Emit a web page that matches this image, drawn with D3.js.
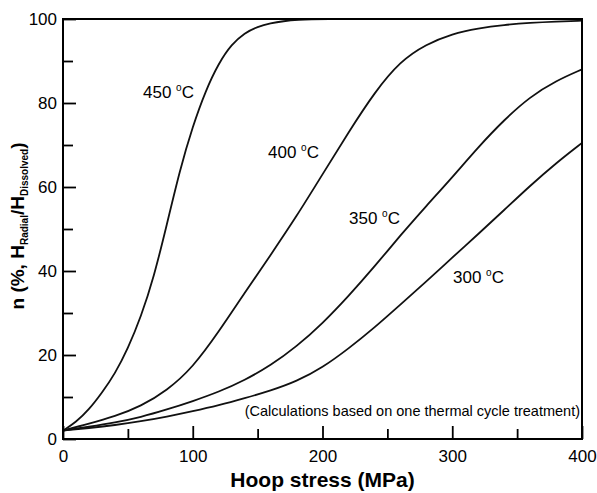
<!DOCTYPE html>
<html><head><meta charset="utf-8">
<script src="https://cdn.jsdelivr.net/npm/d3@7/dist/d3.min.js"></script>
<style>body{margin:0;background:#fff}svg{display:block}text{font-family:"Liberation Sans",Arial,sans-serif}</style>
</head><body><svg id="c" width="597" height="493"></svg>
<script>
// Hoop stress (MPa) vs n (%)
const stress450 = [0,10,20,30,40,50,60,70,80,90,100,110,120,130,140,150,160,170,180,200,250,300,350,400];
const n450      = [2,4,7,11,15.5,21.5,29,38.5,51,64,74.5,83,89.5,94,96.7,98.2,99,99.5,99.8,100,100,100,100,100];
const stress400 = [0,20,40,60,80,100,120,140,160,180,200,220,240,260,280,300,320,340,360,380,400];
const n400      = [2,3.6,5.4,7.8,11.5,17,25.5,34.8,43.8,53,63,73,82.5,90,94,96.5,97.8,98.6,99.1,99.4,99.6];
const stress350 = [0,20,40,60,80,100,120,140,160,180,200,220,240,260,280,300,320,340,360,380,400];
const n350      = [2,2.9,3.9,5.2,7,9,11.2,14,17.5,22,27.5,34,41,48.5,55.5,62.3,69.5,76,81.5,85.3,88];
const stress300 = [0,20,40,60,80,100,120,140,160,180,200,220,240,260,280,300,320,340,360,380,400];
const n300      = [2,2.6,3.3,4.2,5.3,6.6,8,9.7,11.5,13.7,17,21.5,26.5,32,37.5,43.2,48.8,54.5,60.3,65.7,70.5];
const seriesNames = ["450","400","350","300"];
const xTicks = [0,100,200,300,400];
const xMinor = [50,150,250,350];
const yTicks = [0,20,40,60,80,100];
const yMinor = [10,30,50,70,90];
const xTitle = "Hoop stress (MPa)";
const note = "(Calculations based on one thermal cycle treatment)";

const svg = d3.select("#c");
const L=63,R=582,T=19,B=439;
const x = d3.scaleLinear().domain([0,400]).range([L,R]);
const y = d3.scaleLinear().domain([0,100]).range([B,T]);

const series = [
  {name:seriesNames[0], xs:stress450, ys:n450, lx:143, ly:98},
  {name:seriesNames[1], xs:stress400, ys:n400, lx:268, ly:158},
  {name:seriesNames[2], xs:stress350, ys:n350, lx:349, ly:224},
  {name:seriesNames[3], xs:stress300, ys:n300, lx:453, ly:283}
];

const line = d3.line().x(d=>x(d[0])).y(d=>y(d[1])).curve(d3.curveBasis);
series.forEach(s=>{
  svg.append("path").datum(s.xs.map((v,i)=>[v,s.ys[i]]))
    .attr("d",line).attr("fill","none").attr("stroke","#111").attr("stroke-width",1.8);
});

// axes
function styleAxis(g){ g.select(".domain").remove(); g.selectAll("line").attr("stroke","#000").attr("stroke-width",1.8);
  g.selectAll("text").attr("font-size",17).attr("fill","#000"); }
svg.append("g").attr("transform",`translate(0,${B})`)
  .call(d3.axisBottom(x).tickValues(xTicks).tickSize(-13).tickPadding(11).tickFormat(d3.format("d"))).call(styleAxis);
svg.append("g").attr("transform",`translate(0,${B})`)
  .call(d3.axisBottom(x).tickValues(xMinor).tickSize(-10).tickFormat("")).call(styleAxis);
svg.append("g").attr("transform",`translate(${L},0)`)
  .call(d3.axisLeft(y).tickValues(yTicks).tickSize(-13).tickPadding(6).tickFormat(d3.format("d"))).call(styleAxis);
svg.append("g").attr("transform",`translate(${L},0)`)
  .call(d3.axisLeft(y).tickValues(yMinor).tickSize(-10).tickFormat("")).call(styleAxis);

// frame
svg.append("rect").attr("x",L).attr("y",T).attr("width",R-L).attr("height",B-T)
  .attr("fill","none").attr("stroke","#000").attr("stroke-width",2);

// curve labels
series.forEach(s=>{
  const t = svg.append("text").attr("x",s.lx).attr("y",s.ly).attr("font-size",17).attr("fill","#000");
  t.append("tspan").text(s.name+" ");
  t.append("tspan").attr("font-size",10).attr("dy",-7).text("o");
  t.append("tspan").attr("dy",7).text("C");
});

// note
svg.append("text").attr("x",R-2).attr("y",416).attr("text-anchor","end").attr("font-size",14.5).attr("fill","#000").text(note);

// x title
svg.append("text").attr("x",(L+R)/2).attr("y",487).attr("text-anchor","middle")
  .attr("font-size",21).attr("font-weight","bold").attr("fill","#000").text(xTitle);

// y title
const yt = svg.append("text").attr("transform","translate(24,226) rotate(-90)").attr("text-anchor","middle")
  .attr("font-size",19).attr("font-weight","bold").attr("fill","#000");
yt.append("tspan").text("n (%, H");
yt.append("tspan").attr("font-size",10).attr("dy",4).text("Radial");
yt.append("tspan").attr("dy",-4).text("/H");
yt.append("tspan").attr("font-size",10).attr("dy",4).text("Dissolved");
yt.append("tspan").attr("dy",-4).text(")");
</script></body></html>
